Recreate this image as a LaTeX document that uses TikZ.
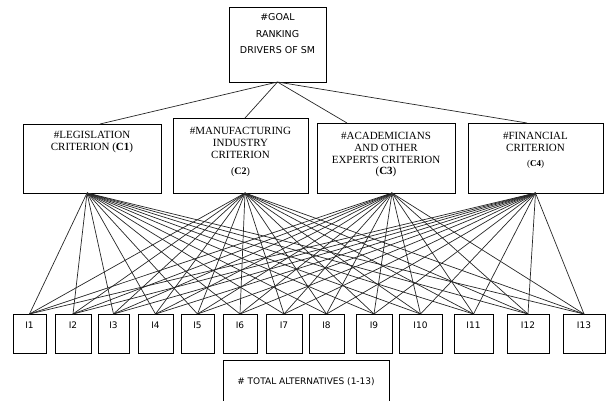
\documentclass[tikz,border=0pt]{standalone}
\usepackage{fontspec}
\setmainfont{Liberation Serif}
\newfontfamily\altfont{DejaVu Sans}
\usetikzlibrary{positioning}
\newcommand\goalfont{\altfont\fontsize{9.5}{16.5}\selectfont}
\newcommand\critfont{\fontsize{11}{11.7}\selectfont}
\newcommand\altsize{\altfont\fontsize{9}{11}\selectfont}
\newcommand\ctag[2]{{\fontsize{#1}{#1}\selectfont(\textbf{#2})}}

\begin{document}
\begin{tikzpicture}[x=1pt, y=1pt, -, node distance=9pt,
                    box/.style = {draw, line width=.8pt, inner sep=0pt, outer sep=0pt},
                    goal/.style = {box, minimum width=97pt, minimum height=75pt},
                    crit/.style = {box, minimum height=70pt},
                    alt/.style = {box, minimum height=39pt},
                    tag/.style = {anchor=north, align=center, inner sep=0pt},
                    link/.style = {line width=.7pt, black!85}]
\useasboundingbox (0,0) rectangle (606,-400);
\node[goal, anchor=north west,
      label={[tag, yshift=-6.7pt, font=\goalfont]north:\#GOAL\\RANKING\\DRIVERS OF SM}] (g) at (229,-7) {};
% criteria
\node[crit, minimum width=138pt, minimum height=69pt, anchor=south west,
      label={[tag, yshift=-7.3pt, font=\critfont]north:\#LEGISLATION\\CRITERION (\textbf{C1})}] (c1) at (23,-193) {};
\node[crit, minimum width=135pt, minimum height=75pt, right=12pt of c1.south east, anchor=south west,
      label={[tag, yshift=-9.3pt, font=\critfont]north:\#MANUFACTURING\\INDUSTRY\\CRITERION\\[5pt]\ctag{10}{C2}}] (c2) {};
\node[crit, minimum width=138pt, right=9pt of c2.south east, anchor=south west,
      label={[tag, yshift=-9.3pt, font=\critfont]north:\#ACADEMICIANS\\AND OTHER\\EXPERTS CRITERION\\(\textbf{C3})}] (c3) {};
\node[crit, minimum width=135pt, right=13pt of c3.south east, anchor=south west,
      label={[tag, yshift=-9.3pt, font=\critfont]north:\#FINANCIAL\\CRITERION\\[3pt]\ctag{9}{C4}}] (c4) {};
% alternatives
\begin{scope}[every label/.style={tag, yshift=-7.7pt, font=\altsize}]
\node[alt, minimum width=33pt, anchor=north west, label=north:I1] (i1) at (13,-314) {};
\node[alt, minimum width=36pt, right=9pt of i1.north east, anchor=north west, label=north:I2] (i2) {};
\node[alt, minimum width=31pt, right=7pt of i2.north east, anchor=north west, label=north:I3] (i3) {};
\node[alt, minimum width=35pt, right=9pt of i3.north east, anchor=north west, label=north:I4] (i4) {};
\node[alt, minimum width=33pt, right=8pt of i4.north east, anchor=north west, label=north:I5] (i5) {};
\node[alt, minimum width=34pt, right=9pt of i5.north east, anchor=north west, label=north:I6] (i6) {};
\node[alt, minimum width=36pt, right=9pt of i6.north east, anchor=north west, label=north:I7] (i7) {};
\node[alt, minimum width=35pt, right=7pt of i7.north east, anchor=north west, label=north:I8] (i8) {};
\node[alt, minimum width=36pt, right=12pt of i8.north east, anchor=north west, label=north:I9] (i9) {};
\node[alt, minimum width=43pt, right=7pt of i9.north east, anchor=north west, label=north:I10] (i10) {};
\node[alt, minimum width=39pt, right=12pt of i10.north east, anchor=north west, label=north:I11] (i11) {};
\node[alt, minimum width=42pt, right=14pt of i11.north east, anchor=north west, label=north:I12] (i12) {};
\node[alt, minimum width=42pt, right=14pt of i12.north east, anchor=north west, label=north:I13] (i13) {};
\node[box, minimum width=166pt, minimum height=50pt, anchor=north west,
      label={[tag, yshift=-9.5pt]north:\# TOTAL ALTERNATIVES (1-13)}] (tot) at (223,-360) {};
\end{scope}
\coordinate (c1b) at ([xshift=-5pt]c1.south);
\coordinate (c2b) at ([xshift=4.5pt]c2.south);
\coordinate (c3b) at ([xshift=6pt]c3.south);
\coordinate (c4b) at (c4.south);
\path[link]
(g.south) edge ([xshift=8pt]c1.north)
(g.south) edge ([xshift=4.5pt]c2.north)
(g.south) edge ([xshift=-39pt]c3.north)
(g.south) edge ([xshift=-8.5pt]c4.north)
(c1b) edge (i1.north)
(c1b) edge (i2.north)
(c1b) edge (i3.north)
(c1b) edge (i4.north)
(c1b) edge (i5.north)
(c1b) edge (i6.north)
(c1b) edge (i7.north)
(c1b) edge (i8.north)
(c1b) edge (i9.north)
(c1b) edge (i10.north)
(c1b) edge (i11.north)
(c1b) edge (i12.north)
(c1b) edge (i13.north)
(c2b) edge (i1.north)
(c2b) edge (i2.north)
(c2b) edge (i3.north)
(c2b) edge (i4.north)
(c2b) edge (i5.north)
(c2b) edge (i6.north)
(c2b) edge (i7.north)
(c2b) edge (i8.north)
(c2b) edge (i9.north)
(c2b) edge (i10.north)
(c2b) edge (i11.north)
(c2b) edge (i12.north)
(c2b) edge (i13.north)
(c3b) edge (i1.north)
(c3b) edge (i2.north)
(c3b) edge (i3.north)
(c3b) edge (i4.north)
(c3b) edge (i5.north)
(c3b) edge (i6.north)
(c3b) edge (i7.north)
(c3b) edge (i8.north)
(c3b) edge (i9.north)
(c3b) edge (i10.north)
(c3b) edge (i11.north)
(c3b) edge (i12.north)
(c3b) edge (i13.north)
(c4b) edge (i1.north)
(c4b) edge (i2.north)
(c4b) edge (i3.north)
(c4b) edge (i4.north)
(c4b) edge (i5.north)
(c4b) edge (i6.north)
(c4b) edge (i7.north)
(c4b) edge (i8.north)
(c4b) edge (i9.north)
(c4b) edge (i10.north)
(c4b) edge (i11.north)
(c4b) edge (i12.north)
(c4b) edge (i13.north);
\end{tikzpicture}
\end{document}
